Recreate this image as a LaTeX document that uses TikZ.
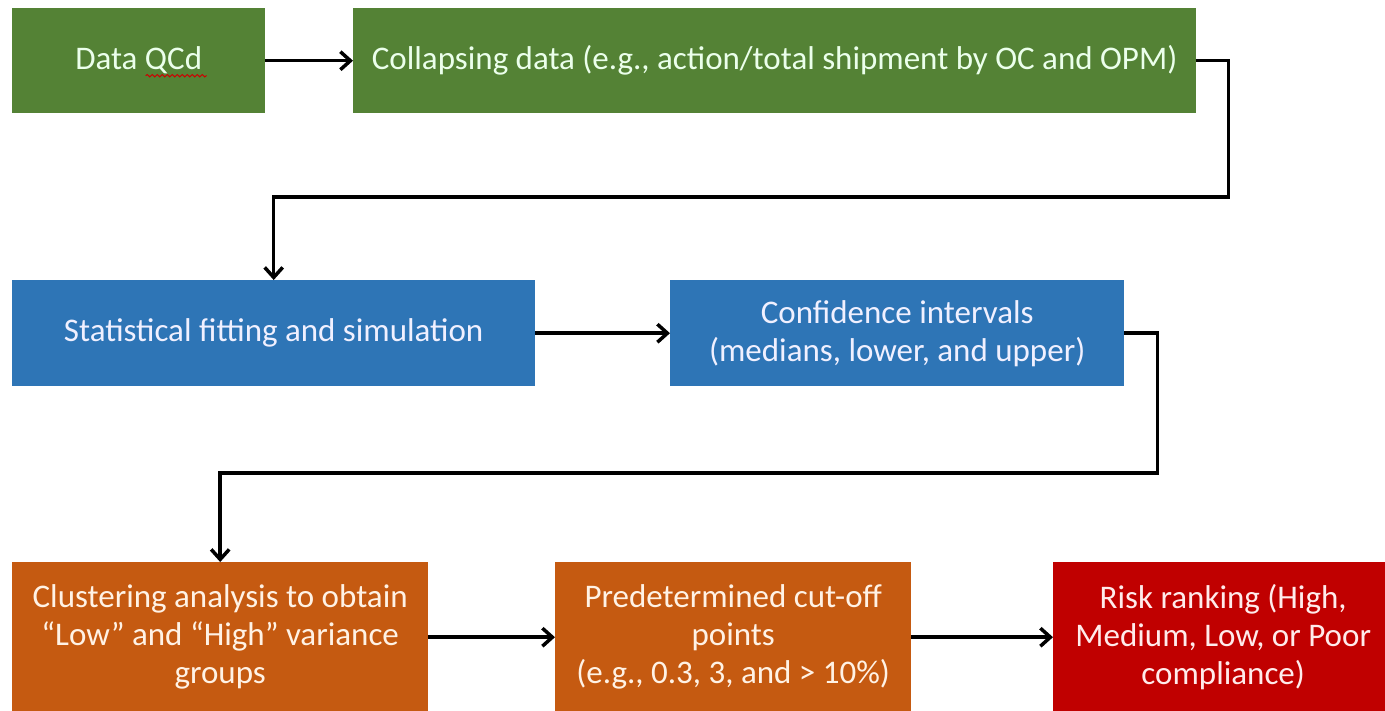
\documentclass[tikz,border=0pt]{standalone}
\usepackage{fontspec}
\setmainfont{Carlito}
\usetikzlibrary{positioning, calc, arrows.meta, decorations.pathmorphing}

\definecolor{qcgreen}{HTML}{548235}
\definecolor{fitblue}{HTML}{2E75B6}
\definecolor{clusterorange}{HTML}{C55A11}
\definecolor{riskred}{HTML}{C00000}

\begin{document}
\begin{tikzpicture}[x=1pt, y=-1pt,
    box/.style={anchor=north west, inner sep=0pt, align=center, font=\fontsize{33}{38}\selectfont},
    flow/.style={line width=3.5pt, -{Straight Barb[length=10pt, width=18pt, line width=3.5pt]}}]
    \useasboundingbox (0,0) rectangle (1385,710);

    % top row
    \node (QC) at (12,8) [box, fill=qcgreen, text=green!8!white, minimum width=253, minimum height=105] {Data QCd};
    \node (Col) at (353,8) [box, fill=qcgreen, text=green!8!white, minimum width=843, minimum height=105] {Collapsing data (e.g., action/total shipment by OC and OPM)};
    \draw[red!80!black, line width=1pt, decorate, decoration={snake, amplitude=1.2pt, segment length=5pt}] ($(QC.center)+(7,15)$) -- ($(QC.center)+(68,15)$);

    % middle row
    \node (Fit) at (12,280) [box, fill=fitblue, text=blue!6!white, minimum width=523, minimum height=106] {Statistical fitting and simulation};
    \node (CI) at (670,280) [box, fill=fitblue, text=blue!6!white, minimum width=454, minimum height=106] {Confidence intervals\\(medians, lower, and upper)};

    % bottom row
    \node (Clu) at (12,562) [box, fill=clusterorange, text=orange!10!white, minimum width=416, minimum height=150] {Clustering analysis to obtain\\“Low” and “High” variance\\groups};
    \node (Cut) at (555,562) [box, fill=clusterorange, text=orange!10!white, minimum width=356, minimum height=150] {Predetermined cut-off\\points\\(e.g., 0.3, 3, and > 10\%)};
    \node (Risk) at (1053,562) [box, fill=riskred, text=red!8!white, minimum width=340, minimum height=150] {Risk ranking (High,\\Medium, Low, or Poor\\compliance)};

    \draw[flow] (QC.east) -- (Col.west);
    \draw[flow] (Col.east) -- ++(32,0) |- ($(Fit.north)+(0,-83)$) -- (Fit.north);
    \draw[flow] (Fit.east) -- (CI.west);
    \draw[flow] (CI.east) -- ++(33,0) |- ($(Clu.north)+(0,-89)$) -- (Clu.north);
    \draw[flow] (Clu.east) -- (Cut.west);
    \draw[flow] (Cut.east) -- (Risk.west);
\end{tikzpicture}
\end{document}
